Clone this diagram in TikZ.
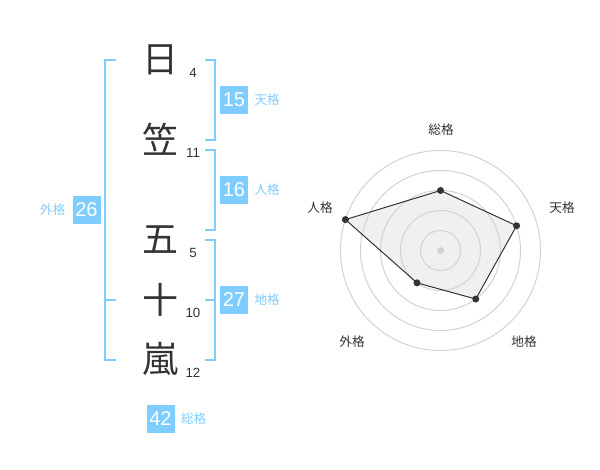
\documentclass[tikz,border=0pt]{standalone}
\usepackage{fontspec}
\usetikzlibrary{positioning}
\setmainfont{Liberation Sans}
\newfontfamily\jpfont{Noto Sans CJK JP}
\definecolor{kakublue}{RGB}{127,204,255}
\definecolor{inkgray}{RGB}{51,51,51}
\definecolor{ringgray}{RGB}{210,210,210}
\definecolor{areagray}{RGB}{240,240,240}
\begin{document}
\begin{tikzpicture}[x=0.75pt,y=-0.75pt,
  moji/.style={font=\jpfont\fontsize{27}{27}\selectfont,text=inkgray,inner sep=0pt},
  kaku/.style={font=\fontsize{10}{10}\selectfont,text=inkgray,inner sep=0pt},
  score/.style={fill=kakublue,text=white,minimum size=21pt,inner sep=0pt,font=\fontsize{15}{15}\selectfont},
  kakuname/.style={font=\jpfont\fontsize{9.5}{9.5}\selectfont,text=kakublue,inner sep=0pt},
  bracket/.style={draw=kakublue,line width=1.5pt},
  axislabel/.style={font=\jpfont\fontsize{9.5}{9.5}\selectfont,text=inkgray,inner sep=0pt}]
\useasboundingbox (0,0) rectangle (600,470);
% characters of the name and their strokes
\node[moji] (hi) at (160,60) {日};
\node[moji] (kasa) at (160,139) {笠};
\node[moji] (go) at (160,240) {五};
\node[moji] (ju) at (160,300) {十};
\node[moji] (arashi) at (160,359) {嵐};
\node[kaku] at (193,73) {4};
\node[kaku] at (193,153) {11};
\node[kaku] at (193,253) {5};
\node[kaku] at (193,313) {10};
\node[kaku] at (193,373) {12};
% brackets
\draw[bracket] (116,60) -- (105,60) -- (105,360) -- (116,360);
\draw[bracket] (105,300) -- (116,300);
\draw[bracket] (205,60) -- (215,60) -- (215,140) -- (205,140);
\draw[bracket] (205,150) -- (215,150) -- (215,230) -- (205,230);
\draw[bracket] (205,240) -- (215,240) -- (215,360) -- (205,360);
\draw[bracket] (205,300) -- (215,300);
% scores
\node[score] (tenkaku) at (234,100) {15};
\node[kakuname,right=4.5pt of tenkaku] {天格};
\node[score] (jinkaku) at (234,190) {16};
\node[kakuname,right=4.5pt of jinkaku] {人格};
\node[score] (chikaku) at (234,300) {27};
\node[kakuname,right=4.5pt of chikaku] {地格};
\node[score] (gaikaku) at (86.5,210) {26};
\node[kakuname,left=5pt of gaikaku] {外格};
\node[score] (sokaku) at (160.5,419) {42};
\node[kakuname,right=4.5pt of sokaku] {総格};
% radar chart
\begin{scope}[shift={(440.5,250.5)}]
\foreach \a/\v/\n in {-90/60/so,-18/80/ten,54/60/chi,126/40/gai,198/100/jin}
  \coordinate (r-\n) at (\a:\v);
\fill[areagray] (r-so) -- (r-ten) -- (r-chi) -- (r-gai) -- (r-jin) -- cycle;
\foreach \r in {20,40,...,100}
  \draw[ringgray,line width=0.75pt] (0,0) circle[radius=\r];
\fill[ringgray] (0,0) circle[radius=3.5];
\draw[inkgray,line width=0.75pt] (r-so) -- (r-ten) -- (r-chi) -- (r-gai) -- (r-jin) -- cycle;
\foreach \n in {so,ten,chi,gai,jin}
  \fill[inkgray] (r-\n) circle[radius=3.5];
\end{scope}
\node[axislabel] at (441,130) {総格};
\node[axislabel] at (562,208) {天格};
\node[axislabel] at (320,208) {人格};
\node[axislabel] at (352,342) {外格};
\node[axislabel] at (524,342) {地格};
\end{tikzpicture}
\end{document}
